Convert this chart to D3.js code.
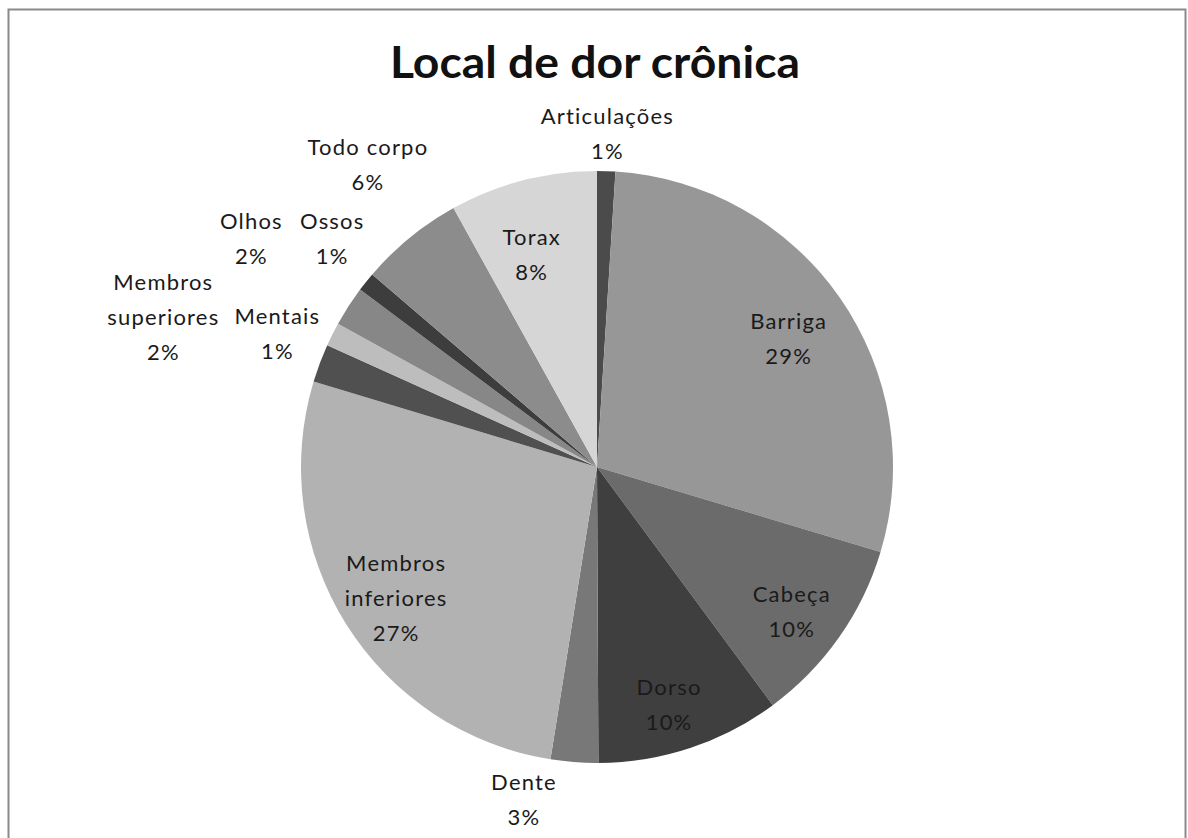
<!DOCTYPE html>
<html>
<head>
<meta charset="utf-8">
<script src="https://cdn.jsdelivr.net/npm/d3@7"></script>
<style>
  body { margin: 0; background: #fff; }
  svg { display: block; }
</style>
</head>
<body>
<svg id="chart"></svg>
<script>
// slices, clockwise from 12 o'clock
const categories = ["Articulações", "Barriga", "Cabeça", "Dorso", "Dente", "Membros inferiores",
                    "Membros superiores", "Mentais", "Olhos", "Ossos", "Todo corpo", "Torax"];
const values = [1.0, 28.8, 10.3, 10.1, 2.6, 27.3, 2.1, 1.3, 2.2, 1.05, 5.7, 8.1];
const labelLines = [["Articulações"], ["Barriga"], ["Cabeça"], ["Dorso"], ["Dente"], ["Membros", "inferiores"],
                    ["Membros", "superiores"], ["Mentais"], ["Olhos"], ["Ossos"], ["Todo corpo"], ["Torax"]];

const width = 1188, height = 838;
const cx = 597, cy = 467, R = 296;

const fills = ["#4b4b4b", "#979797", "#6b6b6b", "#3f3f3f", "#787878", "#b2b2b2",
               "#505050", "#bdbdbd", "#878787", "#3d3d3d", "#8c8c8c", "#d6d6d6"];
// label placement: radius factor and angle shift (deg) from slice middle
const labelRadius = [1.125, 0.78, 0.82, 0.84, 1.15, 0.81, 1.55, 1.17, 1.40, 1.18, 1.28, 0.75];
const labelShift  = [0, 1, 1.5, 1.5, 8, -1, -1.5, -4, 0.6, 2, 2, -2.6];

const svg = d3.select("#chart").attr("width", width).attr("height", height);

// outer frame
svg.append("rect")
    .attr("x", 8.5).attr("y", 9.5)
    .attr("width", 1177).attr("height", 840)
    .attr("fill", "none")
    .attr("stroke", "#8a8a8a")
    .attr("stroke-width", 2);

svg.append("text")
    .attr("x", 595).attr("y", 78)
    .attr("text-anchor", "middle")
    .attr("font-family", "Lato, sans-serif")
    .attr("font-weight", "bold")
    .attr("font-size", 44)
    .attr("textLength", 410)
    .attr("lengthAdjust", "spacingAndGlyphs")
    .attr("fill", "#111")
    .text("Local de dor crônica");

const total = d3.sum(values);
const pie = d3.pie().sort(null).value(d => d)(values);
const arc = d3.arc().innerRadius(0).outerRadius(R);

const g = svg.append("g").attr("transform", `translate(${cx},${cy})`);

g.selectAll("path")
    .data(pie)
    .enter()
    .append("path")
    .attr("d", arc)
    .attr("fill", (d, i) => fills[i])
    .attr("stroke", "none");

// data labels
const lineH = 35;
const labels = g.selectAll("text.lbl")
    .data(pie)
    .enter()
    .append("text")
    .attr("class", "lbl")
    .attr("text-anchor", "middle")
    .attr("font-family", "Lato, sans-serif")
    .attr("font-size", 22)
    .attr("letter-spacing", 1.2)
    .attr("fill", "#1a1a1a")
    .attr("transform", (d, i) => {
        const a = (d.startAngle + d.endAngle) / 2 + labelShift[i] * Math.PI / 180;
        const r = labelRadius[i] * R;
        return `translate(${r * Math.sin(a)},${-r * Math.cos(a)})`;
    });

labels.each(function(d, i) {
    const lines = labelLines[i].concat([Math.round(d.value / total * 100) + "%"]);
    const t = d3.select(this);
    const y0 = -(lines.length - 1) * lineH / 2;
    lines.forEach((s, k) => {
        t.append("tspan")
            .attr("x", 0)
            .attr("y", y0 + k * lineH)
            .attr("dy", "0.35em")
            .text(s);
    });
});
</script>
</body>
</html>
